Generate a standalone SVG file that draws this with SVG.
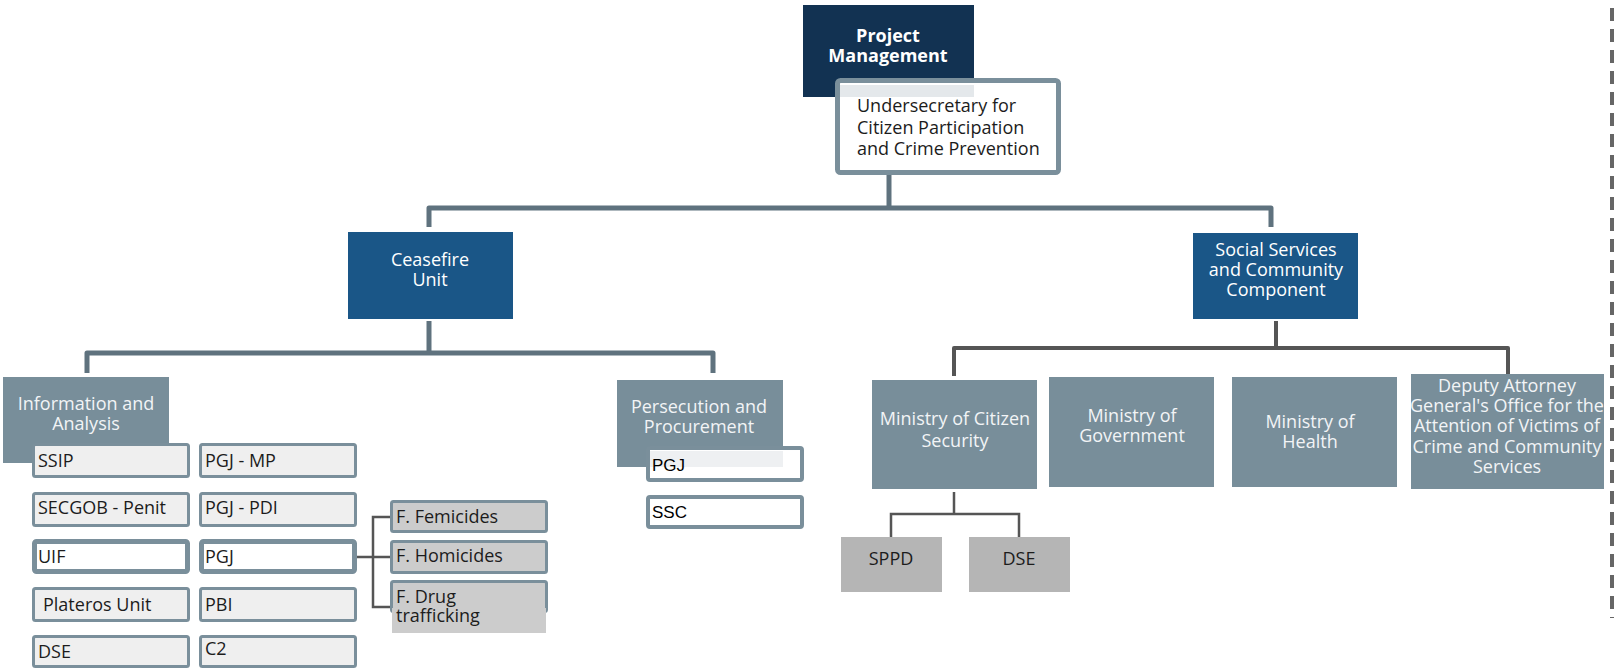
<svg xmlns="http://www.w3.org/2000/svg" width="1620" height="670" viewBox="0 0 1620 670">
<style>
text{font-family:"Open Sans","DejaVu Sans",sans-serif;font-size:18px}
.w{fill:#ffffff;text-anchor:middle}
.lt{fill:#f2f4f6;text-anchor:middle}
.dk{fill:#1c1c1c}
.ar{font-family:"Liberation Sans",Arial,sans-serif;font-size:17px;fill:#000}
.navy{fill:#123252}
.blue{fill:#1a5687}
.slate{fill:#788e9a}
.sm{fill:#efefef;stroke:#7a8f9b;stroke-width:3}
.smw{fill:#ffffff;stroke:#7a8f9b;stroke-width:5}
.fb{fill:#cccccc;stroke:#7a8f9b;stroke-width:3}
.gr{fill:#b5b5b5}
.c1{fill:none;stroke:#5f727e;stroke-width:5;stroke-linejoin:round}
.c2{fill:none;stroke:#555555;stroke-width:4;stroke-linejoin:round}
.c3{fill:none;stroke:#555555;stroke-width:2.5}
</style>
<g id="connectors">
<path class="c1" d="M889,175 V208"/>
<path class="c1" d="M429,227 V208 H1271 V227"/>
<path class="c1" d="M429,321 V353"/>
<path class="c1" d="M87,373 V353 H713 V373"/>
<path class="c2" d="M1276,321 V348"/>
<path class="c2" d="M954,376 V348 H1508 V374"/>
<path class="c3" d="M954,492 V514 M891,537 V514 H1019 V537"/>
<path class="c3" d="M357,557 H390 M392,517 H373 V607 H392"/>
<path d="M1612,8 V618" fill="none" stroke="#666666" stroke-width="4" stroke-dasharray="13 8"/>
</g>
<g id="project-management">
<rect class="navy" x="803" y="5" width="171" height="92"/>
<text class="w" x="888" y="42" font-weight="700">Project</text>
<text class="w" x="888" y="62" font-weight="700">Management</text>
</g>
<g id="undersecretary">
<rect x="837.5" y="80.5" width="221" height="92" rx="3" fill="#ffffff" stroke="#7a8f9b" stroke-width="5"/>
<rect x="840" y="85" width="134" height="12" fill="#e4e8eb"/>
<text class="dk" x="857" y="112">Undersecretary for</text>
<text class="dk" x="857" y="133.5">Citizen Participation</text>
<text class="dk" x="857" y="155">and Crime Prevention</text>
</g>
<g id="ceasefire">
<rect class="blue" x="348" y="232" width="165" height="87"/>
<text class="w" x="430" y="266">Ceasefire</text>
<text class="w" x="430" y="286">Unit</text>
</g>
<g id="social-services">
<rect class="blue" x="1193" y="233" width="165" height="86"/>
<text class="w" x="1276" y="256">Social Services</text>
<text class="w" x="1276" y="276">and Community</text>
<text class="w" x="1276" y="296">Component</text>
</g>
<g id="information-analysis">
<rect class="slate" x="3" y="377" width="166" height="86"/>
<text class="lt" x="86" y="410">Information and</text>
<text class="lt" x="86" y="430">Analysis</text>
</g>
<g id="persecution">
<rect class="slate" x="617" y="380" width="166" height="87"/>
<text class="lt" x="699" y="413">Persecution and</text>
<text class="lt" x="699" y="433">Procurement</text>
</g>
<g id="pgj-pers">
<rect x="648" y="448" width="154" height="32" rx="2" fill="#ffffff" stroke="#7a8f9b" stroke-width="4"/>
<rect x="650" y="451" width="133" height="16" fill="#eef0f2"/>
<text class="ar" x="652" y="471">PGJ</text>
</g>
<g id="ssc">
<rect x="648" y="497" width="154" height="30" rx="2" fill="#ffffff" stroke="#7a8f9b" stroke-width="4"/>
<text class="ar" x="652" y="518">SSC</text>
</g>
<g id="ssip"><rect class="sm" x="33.5" y="444.5" width="155" height="32" rx="2"/><text class="dk" x="38" y="467">SSIP</text></g>
<g id="secgob"><rect class="sm" x="33.5" y="493.5" width="155" height="32" rx="2"/><text class="dk" x="38" y="514">SECGOB - Penit</text></g>
<g id="uif"><rect class="smw" x="34.5" y="541.5" width="153" height="30" rx="2"/><text class="dk" x="38" y="563">UIF</text></g>
<g id="plateros"><rect class="sm" x="33.5" y="588.5" width="155" height="32" rx="2"/><text class="dk" x="43" y="611">Plateros Unit</text></g>
<g id="dse-left"><rect class="sm" x="33.5" y="636.5" width="155" height="30" rx="2"/><text class="dk" x="38" y="658">DSE</text></g>
<g id="pgj-mp"><rect class="sm" x="200.5" y="444.5" width="155" height="32" rx="2"/><text class="dk" x="205" y="467">PGJ - MP</text></g>
<g id="pgj-pdi"><rect class="sm" x="200.5" y="493.5" width="155" height="32" rx="2"/><text class="dk" x="205" y="514">PGJ - PDI</text></g>
<g id="pgj"><rect class="smw" x="201.5" y="541.5" width="153" height="30" rx="2"/><text class="dk" x="205" y="563">PGJ</text></g>
<g id="pbi"><rect class="sm" x="200.5" y="588.5" width="155" height="32" rx="2"/><text class="dk" x="205" y="611">PBI</text></g>
<g id="c2"><rect class="sm" x="200.5" y="636.5" width="155" height="30" rx="2"/><text class="dk" x="205" y="655">C2</text></g>
<g id="f-femicides"><rect class="fb" x="391.5" y="501.5" width="155" height="30" rx="2"/><text class="dk" x="396" y="523">F. Femicides</text></g>
<g id="f-homicides"><rect class="fb" x="391.5" y="541.5" width="155" height="31" rx="2"/><text class="dk" x="396" y="562">F. Homicides</text></g>
<g id="f-drug">
<rect class="fb" x="391.5" y="581.5" width="155" height="30" rx="2"/>
<rect x="392" y="608" width="154" height="25" fill="#cccccc"/>
<text class="dk" x="396" y="603">F. Drug</text>
<text class="dk" x="396" y="622">trafficking</text>
</g>
<g id="ministry-citizen-security">
<rect class="slate" x="872" y="380" width="165" height="109"/>
<text class="lt" x="955" y="425">Ministry of Citizen</text>
<text class="lt" x="955" y="447">Security</text>
</g>
<g id="ministry-government">
<rect class="slate" x="1049" y="377" width="165" height="110"/>
<text class="lt" x="1132" y="422">Ministry of</text>
<text class="lt" x="1132" y="442">Government</text>
</g>
<g id="ministry-health">
<rect class="slate" x="1232" y="377" width="165" height="110"/>
<text class="lt" x="1310" y="428">Ministry of</text>
<text class="lt" x="1310" y="448">Health</text>
</g>
<g id="deputy-attorney">
<rect class="slate" x="1411" y="374" width="193" height="115"/>
<text class="lt" x="1507" y="392" font-size="17">Deputy Attorney</text>
<text class="lt" x="1507" y="412" font-size="17">General's Office for the</text>
<text class="lt" x="1507" y="432" font-size="17">Attention of Victims of</text>
<text class="lt" x="1507" y="453" font-size="17">Crime and Community</text>
<text class="lt" x="1507" y="473" font-size="17">Services</text>
</g>
<g id="sppd"><rect class="gr" x="841" y="537" width="101" height="55"/><text class="dk" x="891" y="565" text-anchor="middle">SPPD</text></g>
<g id="dse-right"><rect class="gr" x="969" y="537" width="101" height="55"/><text class="dk" x="1019" y="565" text-anchor="middle">DSE</text></g>
</svg>
